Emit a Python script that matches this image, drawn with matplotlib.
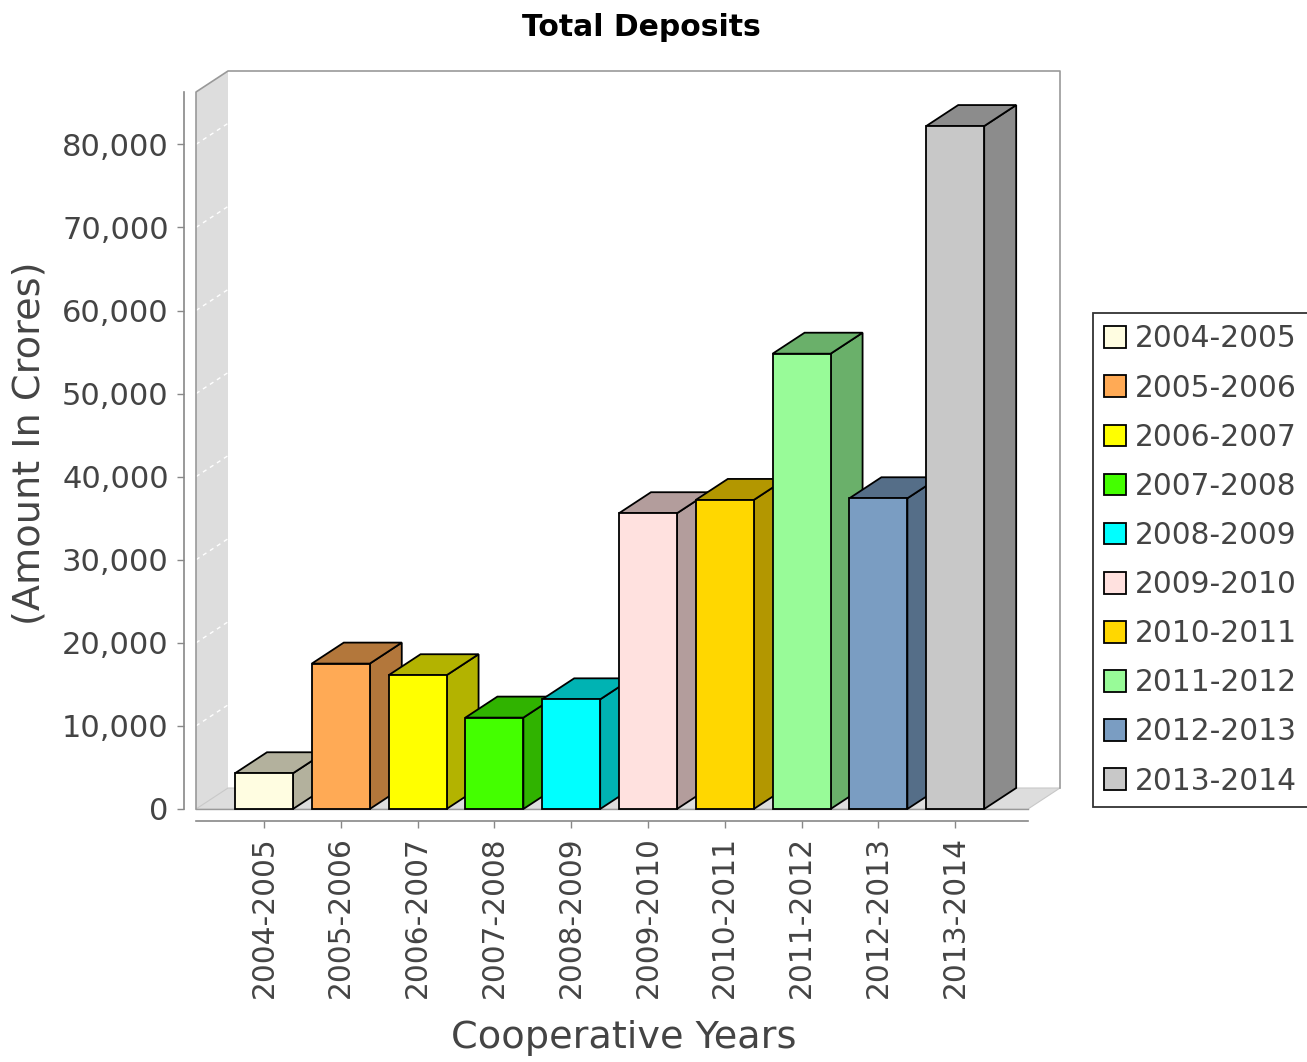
import matplotlib
matplotlib.use("Agg")
import matplotlib.pyplot as plt
from matplotlib.patches import Polygon, Rectangle, Patch
from matplotlib.colors import to_rgb

# ---------------- data ----------------
categories = ["2004-2005", "2005-2006", "2006-2007", "2007-2008", "2008-2009",
              "2009-2010", "2010-2011", "2011-2012", "2012-2013", "2013-2014"]
values = [4300, 17500, 16100, 11000, 13200, 35600, 37200, 54800, 37400, 82200]
face_colors = ["#FFFDE1", "#FFAA55", "#FFFF00", "#44FF00", "#00FFFF",
               "#FFE1DF", "#FFD700", "#98FB98", "#7A9DC2", "#C8C8C8"]
y_ticks = [0, 10000, 20000, 30000, 40000, 50000, 60000, 70000, 80000]
y_tick_labels = ["0", "10,000", "20,000", "30,000", "40,000", "50,000",
                 "60,000", "70,000", "80,000"]
title = "Total Deposits"
x_label = "Cooperative Years"
y_label = "(Amount In Crores)"

# ---------------- layout ----------------
W, H = 1307, 1062
DPI = 100
fig = plt.figure(figsize=(W / DPI, H / DPI), dpi=DPI)
fig.patch.set_facecolor("white")

# front plane of the 3D plot (pixels, y from top)
fx0, fx1, fy_bot, fy_top = 196, 1028, 809, 92
ax = fig.add_axes([fx0 / W, 1 - fy_bot / H, (fx1 - fx0) / W, (fy_bot - fy_top) / H])
ax.patch.set_visible(False)

x0, x1 = -0.885, 9.948
ymax = 86300
ax.set_xlim(x0, x1)
ax.set_ylim(0, ymax)

# 3D depth (pixels) converted to data units
depth_px_x, depth_px_y = 32, 21
dxd = depth_px_x * (x1 - x0) / (fx1 - fx0)
dyd = depth_px_y * ymax / (fy_bot - fy_top)

wall_col = "#DDDDDD"
outline_col = "#999999"
text_col = "#444444"

# back wall
ax.add_patch(Rectangle((x0 + dxd, dyd), x1 - x0, ymax, facecolor="white",
                       edgecolor="none", clip_on=False, zorder=0))
# left wall
ax.add_patch(Polygon([(x0, 0), (x0 + dxd, dyd), (x0 + dxd, ymax + dyd), (x0, ymax)],
                     closed=True, facecolor=wall_col, edgecolor="none",
                     clip_on=False, zorder=0.5))
# floor
ax.add_patch(Polygon([(x0, 0), (x1, 0), (x1 + dxd, dyd), (x0 + dxd, dyd)],
                     closed=True, facecolor=wall_col, edgecolor="#C8C8C8", lw=0.8,
                     clip_on=False, zorder=0.5))
# gridlines on left wall
for t in y_ticks[1:]:
    ax.plot([x0, x0 + dxd], [t, t + dyd], color="white", lw=1.0,
            ls=(0, (3, 3)), clip_on=False, zorder=0.6)
# outlines
ax.plot([x0, x0, x0 + dxd, x1 + dxd, x1 + dxd],
        [0, ymax, ymax + dyd, ymax + dyd, dyd],
        color=outline_col, lw=1.2, clip_on=False, zorder=0.7)
ax.plot([x0, x1], [0, 0], color=outline_col, lw=1.0, clip_on=False, zorder=0.7)

# bars
bw = 0.755
for i, (v, c) in enumerate(zip(values, face_colors)):
    rgb = to_rgb(c)
    dark = tuple(ch * 0.7 for ch in rgb)
    xl, xr = i - bw / 2, i + bw / 2
    z = 2 + i
    side = Polygon([(xr, 0), (xr + dxd, dyd), (xr + dxd, v + dyd), (xr, v)],
                   closed=True, facecolor=dark, edgecolor="black", lw=1.3,
                   joinstyle="miter", clip_on=False, zorder=z)
    top = Polygon([(xl, v), (xr, v), (xr + dxd, v + dyd), (xl + dxd, v + dyd)],
                  closed=True, facecolor=dark, edgecolor="black", lw=1.3,
                  joinstyle="miter", clip_on=False, zorder=z)
    ax.add_patch(side)
    ax.add_patch(top)
    ax.bar(i, v, width=bw, color=c, edgecolor="black", linewidth=1.3,
           zorder=z + 0.5, clip_on=False)

# axes / ticks
for s in ("top", "right"):
    ax.spines[s].set_visible(False)
ax.spines["left"].set_position(("outward", 12 * 0.72))
ax.spines["bottom"].set_position(("outward", 12 * 0.72))
for s in ("left", "bottom"):
    ax.spines[s].set_color("#888888")
    ax.spines[s].set_linewidth(1.2)

ax.set_yticks(y_ticks)
ax.set_yticklabels(y_tick_labels)
ax.set_xticks(range(len(categories)))
ax.set_xticklabels(categories, rotation=90)
ax.tick_params(axis="y", direction="out", length=5, width=1, color="#888888",
               labelsize=22, labelcolor=text_col, pad=6)
ax.tick_params(axis="x", direction="out", length=5, width=1, color="#888888",
               labelsize=21.3, labelcolor=text_col, pad=6)

# labels & title
fig.text(641 / W, 1 - 27 / H, title, ha="center", va="center",
         fontsize=21.5, fontweight="bold", color="black")
fig.text(624 / W, 1 - 1038 / H, x_label, ha="center", va="center",
         fontsize=27.5, color=text_col)
fig.text(30 / W, 1 - 443 / H, y_label, ha="center", va="center",
         fontsize=27.5, color=text_col, rotation=90)

# legend
handles = [Patch(facecolor=c, edgecolor="black", linewidth=1.3) for c in face_colors]
leg = fig.legend(handles, categories, loc="center left",
                 bbox_to_anchor=(1093 / W, 1 - 560 / H), bbox_transform=fig.transFigure,
                 fontsize=21.3, frameon=True, fancybox=False, shadow=False,
                 borderpad=0.38, labelspacing=0.68, handlelength=0.75,
                 handleheight=0.75, handletextpad=0.3, borderaxespad=0)
leg.get_frame().set_edgecolor("black")
leg.get_frame().set_linewidth(1.3)
for t in leg.get_texts():
    t.set_color(text_col)

fig.savefig("out.png", dpi=DPI, facecolor="white")
